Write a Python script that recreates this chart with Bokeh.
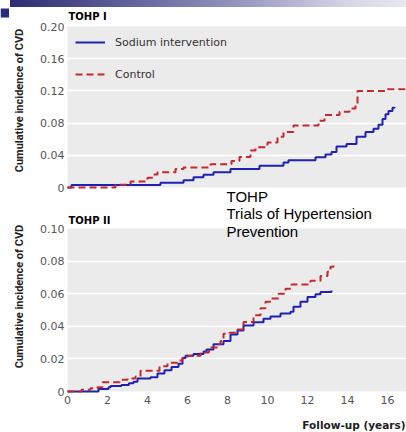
import math
from bokeh.plotting import figure
from bokeh.models import Range1d, FixedTicker, Label, Div, BoxAnnotation
from bokeh.layouts import column
from bokeh.embed import file_html
from bokeh.resources import INLINE

# ---------------- data ----------------
# TOHP I
t1_sodium = [0, 0.2, 4.65, 5.8, 6.3, 6.8, 7.3, 8.15, 9.6, 10.8, 11.05, 12.4, 12.9, 13.2,
             13.45, 13.95, 14.45, 14.9, 15.3, 15.55, 15.75, 15.9, 16.05, 16.25, 16.35]
v1_sodium = [0, 0.003, 0.006, 0.009, 0.0128, 0.0157, 0.019, 0.023, 0.027, 0.031, 0.034, 0.0375,
             0.041, 0.044, 0.051, 0.054, 0.063, 0.069, 0.073, 0.078, 0.085, 0.091, 0.095, 0.099, 0.1]
t1_control = [0, 2.4, 3.15, 4.0, 4.3, 4.5, 5.4, 5.8, 7.15, 8.2, 8.6, 9.15, 9.4, 10.0, 10.5, 10.8,
              11.3, 12.55, 12.85, 13.6, 14.1, 14.4, 14.5, 15.95, 16.95]
v1_control = [0, 0.0035, 0.0075, 0.012, 0.016, 0.019, 0.023, 0.025, 0.029, 0.033, 0.038, 0.046,
              0.050, 0.056, 0.063, 0.069, 0.077, 0.083, 0.090, 0.094, 0.098, 0.103, 0.120, 0.122, 0.122]

# TOHP II
t2_sodium = [0, 1.55, 2.05, 2.15, 2.7, 3.07, 3.3, 3.5, 4.15, 4.5, 4.85, 5.2, 5.55, 5.75, 5.9,
             6.3, 6.8, 6.95, 7.3, 7.8, 8.15, 8.5, 8.8, 9.3, 9.8, 10.15, 10.65, 11.15, 11.3,
             11.65, 12.0, 12.4, 12.65, 13.2]
v2_sodium = [0, 0.0016, 0.0026, 0.0033, 0.004, 0.005, 0.006, 0.008, 0.0088, 0.011, 0.013, 0.015,
             0.017, 0.0205, 0.022, 0.023, 0.0245, 0.0257, 0.029, 0.031, 0.035, 0.0375, 0.0405,
             0.0425, 0.0447, 0.046, 0.0478, 0.049, 0.052, 0.055, 0.058, 0.0597, 0.061, 0.062]
t2_control = [0, 0.7, 1.15, 1.5, 1.75, 2.6, 3.0, 3.4, 3.65, 4.6, 5.0, 5.6, 5.75, 6.0, 6.65,
              7.07, 7.5, 7.65, 7.8, 8.1, 8.5, 8.8, 9.3, 9.65, 9.9, 10.2, 10.55, 10.9, 11.2,
              12.15, 12.65, 13.0, 13.15, 13.3]
v2_control = [0, 0.001, 0.002, 0.0026, 0.0057, 0.0072, 0.008, 0.0092, 0.0128, 0.0155, 0.0176,
              0.019, 0.0207, 0.022, 0.024, 0.027, 0.029, 0.031, 0.0355, 0.036, 0.038, 0.0426,
              0.0468, 0.051, 0.055, 0.057, 0.060, 0.063, 0.0657, 0.068, 0.0708, 0.0734, 0.0765, 0.0775]

x_ticks = [0, 2, 4, 6, 8, 10, 12, 14, 16]
x_tick_labels = ["0", "2", "4", "6", "8", "10", "12", "14", "16"]
y1_ticks = [0, 0.04, 0.08, 0.12, 0.16, 0.20]
y1_tick_labels = ["0", "0.04", "0.08", "0.12", "0.16", "0.20"]
y2_ticks = [0, 0.02, 0.04, 0.06, 0.08, 0.10]
y2_tick_labels = ["0", "0.02", "0.04", "0.06", "0.08", "0.10"]

series_names = ["Sodium intervention", "Control"]
panel_titles = ["TOHP I", "TOHP II"]
y_title = "Cumulative incidence of CVD"
x_title = "Follow-up (years)"
note_lines = ["TOHP", "Trials of Hypertension", "Prevention"]

BLUE = "#1f22b0"
RED = "#c22a2e"
FRAME_BG = "#ebebeb"
TICK_COLOR = "#555555"

# pixel <-> data helpers for layout of the frame (frame covers whole canvas)
def tx(px):
    return (px - 67) / 20.0

def v1(py):          # top panel, page y
    return (187 - py) / 805.0

def v2(py):          # bottom panel, page y
    return (391 - py) / 1630.0


def style_axes(p, yt, ylabels, show_x):
    ya = p.yaxis[0]
    ya.fixed_location = 0
    ya.ticker = FixedTicker(ticks=yt)
    ya.major_label_overrides = dict(zip(yt, ylabels))
    ya.axis_line_color = None
    ya.major_tick_line_color = None
    ya.minor_tick_line_color = None
    ya.major_tick_out = 0
    ya.major_tick_in = 0
    ya.major_label_standoff = 3
    ya.major_label_text_font = "DejaVu Sans"
    ya.major_label_text_font_size = "11px"
    ya.major_label_text_color = TICK_COLOR

    xa = p.xaxis[0]
    if show_x:
        xa.fixed_location = 0
        xa.ticker = FixedTicker(ticks=x_ticks)
        xa.major_label_overrides = dict(zip(x_ticks, x_tick_labels))
        xa.axis_line_color = None
        xa.minor_tick_line_color = None
        xa.major_tick_line_color = None
        xa.major_tick_out = 0
        xa.major_tick_in = 0
        xa.major_label_standoff = 4
        xa.major_label_text_font = "DejaVu Sans"
        xa.major_label_text_font_size = "11px"
        xa.major_label_text_color = TICK_COLOR
    else:
        xa.visible = False

    p.xgrid.visible = False
    p.ygrid.ticker = FixedTicker(ticks=yt[1:-1])
    p.ygrid.grid_line_color = "white"
    p.ygrid.grid_line_width = 1.5


def base_fig(height, yr):
    p = figure(width=406, height=height, title=None,
               x_range=Range1d(tx(0), tx(406)), y_range=yr,
               output_backend="svg", toolbar_location=None,
               min_border_left=0, min_border_right=0, min_border_top=0, min_border_bottom=0,
               background_fill_color="white", border_fill_color="white",
               outline_line_color=None)
    return p


def note(p, x, y, text, size="15px", font="Liberation Sans", bold=False, align="left",
         color="black", angle=0.0):
    p.add_layout(Label(x=x, y=y, text=text, text_font=font, text_font_size=size,
                       text_font_style="bold" if bold else "normal", text_color=color,
                       text_align=align, text_baseline="middle", angle=angle))


# ---------------- top panel (page y 7..205) ----------------
p1 = base_fig(198, Range1d(v1(205), v1(7)))
p1.add_layout(BoxAnnotation(left=0, bottom=0, top=0.2, fill_color=FRAME_BG, fill_alpha=1,
                            line_color=None, level="image"))
style_axes(p1, y1_ticks, y1_tick_labels, show_x=False)

p1.step(t1_sodium, v1_sodium, mode="after", line_color=BLUE, line_width=2,
        legend_label=series_names[0])
p1.step(t1_control, v1_control, mode="after", line_color=RED, line_width=2,
        line_dash="7 4", legend_label=series_names[1])

lg = p1.legend[0]
lg.location = (75, 121)
lg.background_fill_alpha = 0
lg.border_line_color = None
lg.padding = 4
lg.margin = 0
lg.spacing = 12
lg.glyph_width = 30
lg.glyph_height = 20
lg.label_height = 20
lg.label_standoff = 10
lg.label_text_font = "DejaVu Sans"
lg.label_text_font_size = "11px"
lg.label_text_color = "#333333"

# small header square at far left
p1.add_layout(BoxAnnotation(left=tx(0), right=tx(8.5), top=v1(8), bottom=v1(17),
                            fill_color="#2c2c7c", fill_alpha=1, line_color=None))
note(p1, tx(68), v1(15.8), panel_titles[0], size="10px", font="DejaVu Sans", bold=True)
note(p1, tx(18.5), v1(100), y_title, size="11px", font="Roboto", bold=True,
     align="center", color="#222222", angle=math.pi / 2)
note(p1, tx(226), v1(195.5), note_lines[0])

# ---------------- bottom panel (page y 205..432) ----------------
p2 = base_fig(227, Range1d(v2(432), v2(205)))
p2.add_layout(BoxAnnotation(left=0, bottom=0, top=0.1, fill_color=FRAME_BG, fill_alpha=1,
                            line_color=None, level="image"))
style_axes(p2, y2_ticks, y2_tick_labels, show_x=True)

p2.step(t2_sodium, v2_sodium, mode="after", line_color=BLUE, line_width=2)
p2.step(t2_control, v2_control, mode="after", line_color=RED, line_width=2, line_dash="7 4")

note(p2, tx(68), v2(219.7), panel_titles[1], size="10px", font="DejaVu Sans", bold=True)
note(p2, tx(18.5), v2(296), y_title, size="11px", font="Roboto", bold=True,
     align="center", color="#222222", angle=math.pi / 2)
note(p2, tx(226), v2(212.8), note_lines[1])
note(p2, tx(226), v2(230.5), note_lines[2])
note(p2, tx(405), v2(424.5), x_title, size="10.5px", font="DejaVu Sans", bold=True,
     align="right", color="#222222")

# ---------------- header bar ----------------
bar = Div(text="", width=406, height=7, margin=(0, 0, 0, 0),
          styles={"background": "linear-gradient(to right, #ffffff 0px, #ffffff 10px, "
                                "#2c2c74 10px, #5e5e98 30%, #9898c0 60%, #d4d4e6 85%, #e8e8f2 100%)"})

layout = column(bar, p1, p2, spacing=0)
open("out.html", "w").write(file_html(layout, INLINE))
